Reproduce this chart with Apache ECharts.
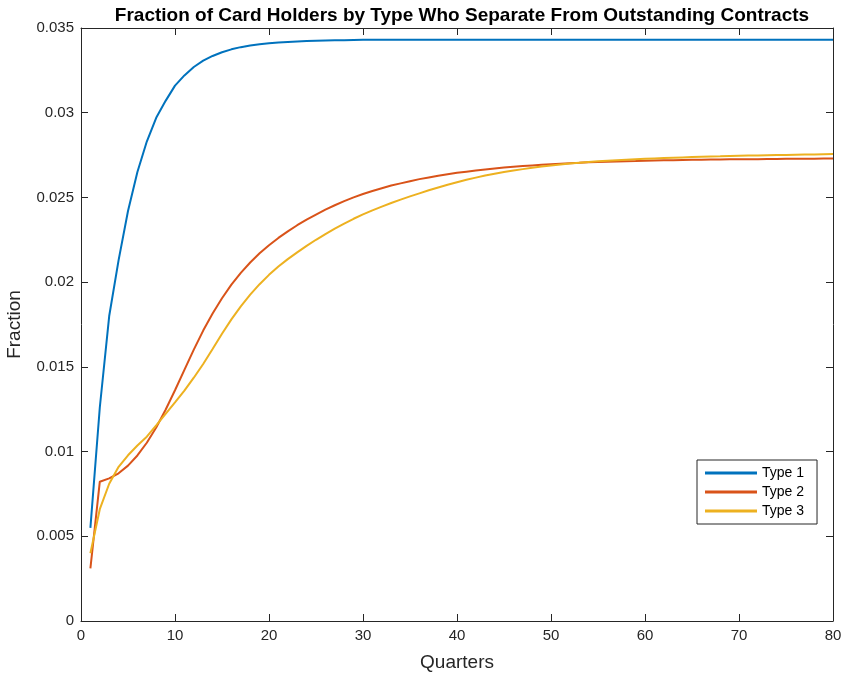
<!DOCTYPE html>
<html>
<head>
<meta charset="utf-8">
<script src="https://cdn.jsdelivr.net/npm/echarts@6/dist/echarts.min.js"></script>
<style>
  html, body { margin: 0; padding: 0; background: #fff; }
  #chart { width: 842px; height: 673px; }
</style>
</head>
<body>
<div id="chart"></div>
<script>
// quarters 1..80
var quarters = [1,2,3,4,5,6,7,8,9,10,11,12,13,14,15,16,17,18,19,20,
  21,22,23,24,25,26,27,28,29,30,31,32,33,34,35,36,37,38,39,40,
  41,42,43,44,45,46,47,48,49,50,51,52,53,54,55,56,57,58,59,60,
  61,62,63,64,65,66,67,68,69,70,71,72,73,74,75,76,77,78,79,80];

var type1 = [0.0055,0.0126,0.0180,0.0213,0.0242,0.0265,0.0283,0.0297,0.0307,0.0316,
  0.0322,0.0327,0.03307,0.03335,0.03357,0.03374,0.03387,0.03397,0.03404,0.0341,
  0.03415,0.03418,0.03421,0.03423,0.03425,0.03426,0.03427,0.03428,0.03429,0.0343,
  0.0343,0.0343,0.0343,0.0343,0.0343,0.0343,0.0343,0.0343,0.0343,0.0343,
  0.0343,0.0343,0.0343,0.0343,0.0343,0.0343,0.0343,0.0343,0.0343,0.0343,
  0.0343,0.0343,0.0343,0.0343,0.0343,0.0343,0.0343,0.0343,0.0343,0.0343,
  0.0343,0.0343,0.0343,0.0343,0.0343,0.0343,0.0343,0.0343,0.0343,0.0343,
  0.0343,0.0343,0.0343,0.0343,0.0343,0.0343,0.0343,0.0343,0.0343,0.0343];

var type2 = [0.0031,0.00822,0.00842,0.00872,0.00917,0.00977,0.01052,0.01142,0.01247,0.01362,
  0.01482,0.01602,0.01714,0.01815,0.01905,0.01985,0.02055,0.02116,0.0217,0.02218,
  0.02261,0.023,0.02336,0.02369,0.02399,0.02428,0.02454,0.02478,0.025,0.0252,
  0.02538,0.02554,0.0257,0.02583,0.02596,0.02608,0.02618,0.02628,0.02637,0.02645,
  0.02652,0.02659,0.02665,0.02671,0.02676,0.02681,0.02685,0.02689,0.02693,0.02696,
  0.02699,0.02702,0.02704,0.02707,0.02709,0.02711,0.02712,0.02714,0.02715,0.02717,
  0.02718,0.02719,0.0272,0.02721,0.02722,0.02723,0.02724,0.02724,0.02725,0.02725,
  0.02726,0.02726,0.02727,0.02727,0.02728,0.02728,0.02729,0.02729,0.0273,0.0273];

var type3 = [0.0040,0.0066,0.0081,0.0091,0.00978,0.01036,0.01088,0.01155,0.01223,0.01291,
  0.0136,0.01436,0.01517,0.01605,0.01695,0.0178,0.01857,0.01926,0.01988,0.02043,
  0.02092,0.02136,0.02176,0.02214,0.0225,0.02284,0.02316,0.02346,0.02374,0.024,
  0.02424,0.02446,0.02467,0.02487,0.02506,0.02524,0.02542,0.02559,0.02575,0.0259,
  0.02604,0.02617,0.02629,0.0264,0.0265,0.02659,0.02667,0.02675,0.02682,0.02689,
  0.02695,0.027,0.02705,0.02709,0.02713,0.02717,0.0272,0.02723,0.02726,0.02728,
  0.0273,0.02732,0.02734,0.02736,0.02738,0.0274,0.02742,0.02743,0.02745,0.02746,
  0.02747,0.02748,0.02749,0.0275,0.02751,0.02752,0.02753,0.02754,0.02755,0.02756];

var seriesNames = ['Type 1', 'Type 2', 'Type 3'];
var colors = ['#0072BD', '#D95319', '#EDB120'];

function pairs(vals) {
    var out = [];
    for (var i = 0; i < quarters.length; i++) {
        out.push([quarters[i], vals[i]]);
    }
    return out;
}

var axisColor = '#262626';
var fontFam = 'Liberation Sans, Arial, Helvetica, sans-serif';

var chart = echarts.init(document.getElementById('chart'), null, {renderer: 'canvas'});

// matlab style box: extra axes on top/right only for ticks
function boxAxis(pos, max, interval) {
    return {
        type: 'value', position: pos, min: 0, max: max, interval: interval,
        axisLine: {show: true, onZero: false, lineStyle: {color: axisColor, width: 1}},
        axisTick: {show: true, inside: true, length: 7, lineStyle: {color: axisColor}},
        axisLabel: {show: false},
        splitLine: {show: false}
    };
}

var options = {
    animation: false,
    backgroundColor: '#fff',
    color: colors,
    title: {
        text: 'Fraction of Card Holders by Type Who Separate From Outstanding Contracts',
        left: 457,
        top: 1,
        textAlign: 'center',
        textStyle: {fontFamily: fontFam, fontSize: 19, fontWeight: 'bold', color: '#000'}
    },
    legend: {
        orient: 'vertical',
        left: 697,
        top: 460,
        data: seriesNames,
        icon: 'rect',
        itemWidth: 52,
        itemHeight: 3,
        itemGap: 5,
        padding: [6, 13, 6, 8],
        borderColor: axisColor,
        borderWidth: 1,
        backgroundColor: '#fff',
        textStyle: {fontFamily: fontFam, fontSize: 14, color: '#000'}
    },
    grid: {left: 81, right: 9, top: 28, bottom: 52, containLabel: false, outerBoundsMode: 'none'},
    xAxis: [{
        type: 'value', min: 0, max: 80, interval: 10,
        name: 'Quarters', nameLocation: 'middle', nameGap: 32,
        nameTextStyle: {fontFamily: fontFam, fontSize: 19, color: '#262626'},
        axisLine: {show: true, onZero: false, lineStyle: {color: axisColor, width: 1}},
        axisTick: {show: true, inside: true, length: 7, lineStyle: {color: axisColor}},
        axisLabel: {margin: 7, fontFamily: fontFam, fontSize: 15, color: '#262626'},
        splitLine: {show: false}
    }, boxAxis('top', 80, 10)],
    yAxis: [{
        type: 'value', min: 0, max: 0.035, interval: 0.005,
        name: 'Fraction', nameLocation: 'middle', nameGap: 57,
        nameTextStyle: {fontFamily: fontFam, fontSize: 19, color: '#262626'},
        axisLine: {show: true, onZero: false, lineStyle: {color: axisColor, width: 1}},
        axisTick: {show: true, inside: true, length: 7, lineStyle: {color: axisColor}},
        axisLabel: {margin: 7, fontFamily: fontFam, fontSize: 15, color: '#262626'},
        splitLine: {show: false}
    }, boxAxis('right', 0.035, 0.005)],
    series: [
        {name: 'Type 1', type: 'line', data: pairs(type1), showSymbol: false, symbol: 'none',
         lineStyle: {width: 2, color: colors[0]}},
        {name: 'Type 2', type: 'line', data: pairs(type2), showSymbol: false, symbol: 'none',
         lineStyle: {width: 2, color: colors[1]}},
        {name: 'Type 3', type: 'line', data: pairs(type3), showSymbol: false, symbol: 'none',
         lineStyle: {width: 2, color: colors[2]}}
    ]
};

chart.setOption(options);
</script>
</body>
</html>
